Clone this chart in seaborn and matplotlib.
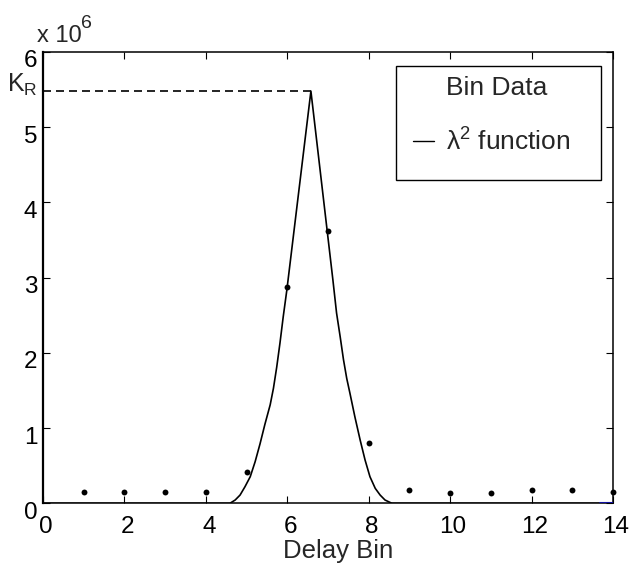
import numpy as np
import pandas as pd
import matplotlib
matplotlib.use("Agg")
import matplotlib.pyplot as plt
import matplotlib.transforms as mtransforms
from matplotlib.lines import Line2D
from matplotlib.patches import Rectangle
import seaborn as sns

# measured bin data (units of 1e6)
bins = [1, 2, 3, 4, 5, 6, 7, 8, 9, 10, 11, 12, 13, 14]
bin_counts = [0.155, 0.155, 0.155, 0.155, 0.42, 2.87, 3.62, 0.80,
              0.177, 0.141, 0.141, 0.177, 0.177, 0.155]

# lambda^2 fit curve
curve_x = [0, 4.59, 4.72, 4.84, 4.96, 5.09, 5.21, 5.33, 5.45, 5.58, 5.66,
           5.74, 5.82, 5.90, 5.99, 6.58,
           7.12, 7.21, 7.30, 7.38, 7.46, 7.54, 7.66, 7.79, 7.91, 8.03,
           8.16, 8.28, 8.40, 8.57, 14]
curve_y = [0, 0, 0.044, 0.11, 0.22, 0.354, 0.553, 0.79, 1.05, 1.31, 1.53,
           1.81, 2.13, 2.48, 2.84, 5.48,
           2.97, 2.53, 2.21, 1.91, 1.66, 1.46, 1.15, 0.84, 0.576, 0.354,
           0.199, 0.11, 0.044, 0, 0]

peak_x = 6.58
k_r = 5.48

blue_x = [13.67, 14]
blue_y = [0, 0]

x_ticks = [0, 2, 4, 6, 8, 10, 12, 14]
y_ticks = [0, 1, 2, 3, 4, 5, 6]

sns.set_style("ticks")
plt.rcParams["font.family"] = ["Liberation Sans", "DejaVu Sans"]
plt.rcParams["mathtext.fontset"] = "custom"
plt.rcParams["mathtext.rm"] = "Liberation Sans"
plt.rcParams["mathtext.it"] = "Liberation Sans:italic"

df_bins = pd.DataFrame({"bin": bins, "count": bin_counts})
df_curve = pd.DataFrame({"x": curve_x, "y": curve_y})

W, H = 635, 567
fig = plt.figure(figsize=(6.35, 5.67), dpi=100)
ax = fig.add_axes([0.0677, 0.1123, 0.8977, 0.796])

sns.lineplot(data=df_curve, x="x", y="y", color="black", linewidth=1.2,
             sort=False, ax=ax, zorder=2)
ax.plot(blue_x, blue_y, color="#1010a0", linewidth=1.5, zorder=3)
sns.scatterplot(data=df_bins, x="bin", y="count", color="black", s=18,
                linewidth=0, ax=ax, zorder=4, clip_on=False)
ax.plot([0, peak_x], [k_r, k_r], color="black", linewidth=1.2,
        linestyle=(0, (4.8, 3.0)))

ax.set_xlim(0, 14)
ax.set_ylim(0, 6)
ax.set_xticks(x_ticks)
ax.set_yticks(y_ticks)
ax.tick_params(direction="in", length=5, width=0.8, top=True, right=True,
               labelsize=17.5, colors="black")
ax.tick_params(axis="x", pad=9)
ax.tick_params(axis="y", pad=4)
for sp in ax.spines.values():
    sp.set_linewidth(1.1)
    sp.set_color("black")
ax.spines["left"].set_linewidth(1.6)

# nudge tick labels like the original export
for lab in ax.get_yticklabels():
    lab.set_transform(lab.get_transform() +
                      mtransforms.ScaledTranslation(0, -7 / 100, fig.dpi_scale_trans))
for lab in ax.get_xticklabels():
    lab.set_transform(lab.get_transform() +
                      mtransforms.ScaledTranslation(3 / 100, 0, fig.dpi_scale_trans))

ax.set_xlabel("Delay Bin", fontsize=18.5)
ax.set_ylabel("")
ax.xaxis.set_label_coords((338 - 43) / 570, -0.078)

ax.annotate("K$_\\mathrm{R}$", xy=(0, k_r), xycoords=("axes fraction", "data"),
            xytext=(-5, -1), textcoords="offset pixels", ha="right",
            va="baseline", fontsize=18)
fig.text(37 / W, 1 - 42 / H, "x 10", fontsize=17, va="baseline")
fig.text(81 / W, 1 - 28 / H, "6", fontsize=14, va="baseline")

# legend: entries placed without frame, box drawn separately
handles = [Line2D([], [], linestyle="none", marker=None),
           Line2D([], [], color="black", linewidth=1.0)]
leg = ax.legend(handles, ["Bin Data", "λ$^{2}$ function"],
                loc="upper left", bbox_to_anchor=(413 / W, 1 - 76 / H),
                bbox_transform=fig.transFigure, fontsize=19, frameon=False,
                handlelength=0.8, handletextpad=0.45, labelspacing=1.07,
                borderpad=0, borderaxespad=0)
leg.set_zorder(10)
box = Rectangle((396 / W, 1 - 180 / H), 205 / W, 114 / H,
                transform=fig.transFigure, facecolor="white",
                edgecolor="black", linewidth=1.0, zorder=6, clip_on=False)
ax.add_patch(box)

fig.savefig("out.png", dpi=100)
